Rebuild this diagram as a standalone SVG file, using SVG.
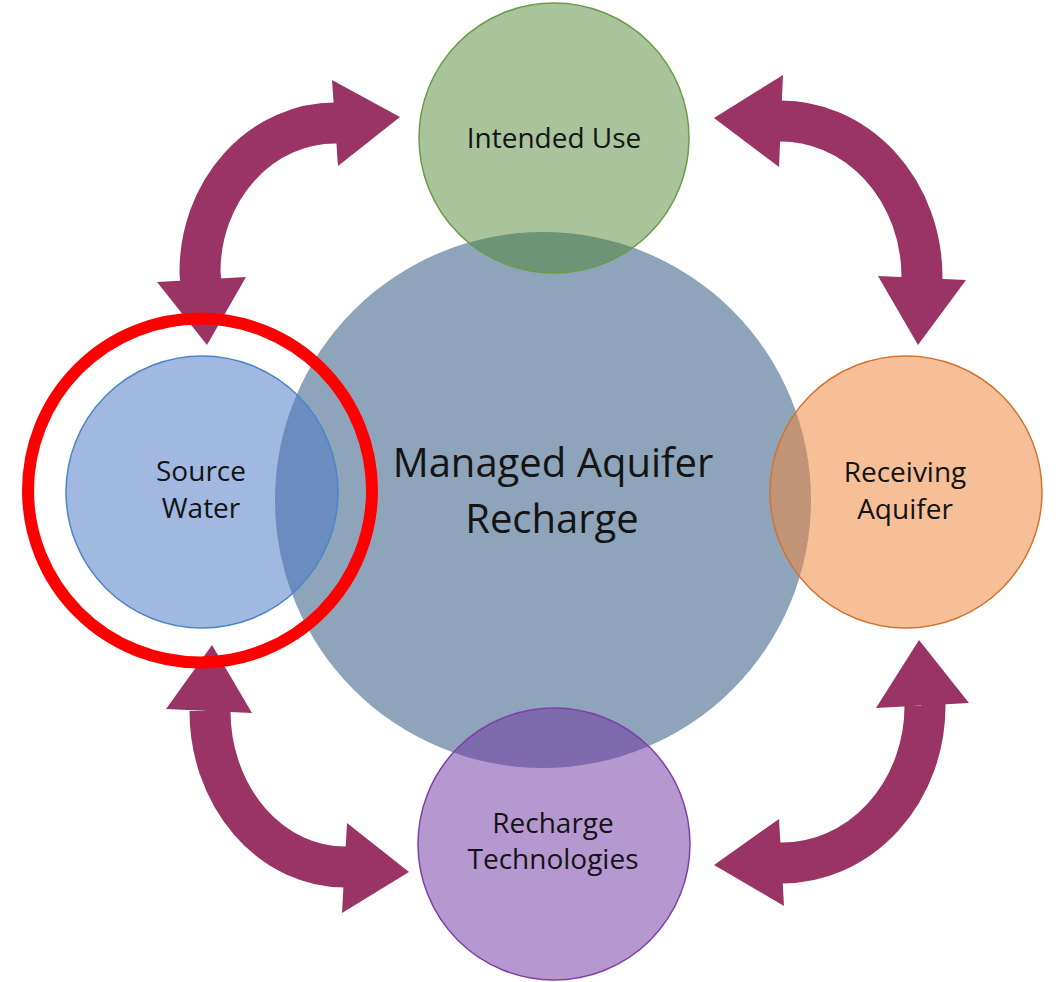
<svg xmlns="http://www.w3.org/2000/svg" width="1056" height="982" viewBox="0 0 1056 982">
<style>
.band{fill:none;stroke:#993464;stroke-width:41;stroke-linecap:butt}
.head{fill:#993464}
.lbl{font-family:"Open Sans","Liberation Sans",sans-serif;fill:#141414;text-anchor:middle}
.small{font-size:28px}
.big{font-size:40px}
</style>
<rect width="1056" height="982" fill="#ffffff"/>
<g id="connectors">
  <path class="band" d="M 201 284 L 200 272 A 135 149 0 0 1 335 123 L 338 123"/>
  <polygon class="head" points="332,80 400,117 338,166"/>
  <polygon class="head" points="157,282 207,345 246,277"/>
  <path class="band" d="M 779 121 A 141 156 0 0 1 922 277 L 922 280"/>
  <polygon class="head" points="714,118 783,75 779,167"/>
  <polygon class="head" points="878,276 918,345 966,280"/>
  <path class="band" d="M 209 709 L 210 711 A 135 156 0 0 0 345 867 L 348 867"/>
  <polygon class="head" points="212,645 166,709 252,713"/>
  <polygon class="head" points="347,823 409,872 342,913"/>
  <path class="band" d="M 924 704 L 925 706 A 143 157 0 0 1 782 863 L 779 863"/>
  <polygon class="head" points="919,640 876,708 969,703"/>
  <polygon class="head" points="714,865 779,819 784,906"/>
</g>
<g id="managed-aquifer-recharge">
  <circle cx="543" cy="500" r="268" fill="#8EA4BB"/>
</g>
<g id="intended-use">
  <circle cx="554" cy="138" r="135" fill="#48822B" fill-opacity="0.47" stroke="#6A9C48" stroke-width="1.5"/>
  <text class="lbl small" x="554" y="148" font-size="29">Intended Use</text>
</g>
<g id="source-water">
  <circle cx="202" cy="492" r="136" fill="#4A76C3" fill-opacity="0.52" stroke="#4A86C6" stroke-width="1.5"/>
  <text class="lbl small" x="201" y="481">Source</text>
  <text class="lbl small" x="201" y="518">Water</text>
</g>
<g id="receiving-aquifer">
  <circle cx="906" cy="492" r="136" fill="#EE863D" fill-opacity="0.53" stroke="#D2742F" stroke-width="1.5"/>
  <text class="lbl small" x="905" y="482">Receiving</text>
  <text class="lbl small" x="905" y="519">Aquifer</text>
</g>
<g id="recharge-technologies">
  <circle cx="554" cy="844" r="136" fill="#6E35A1" fill-opacity="0.51" stroke="#7F3FA8" stroke-width="1.5"/>
  <text class="lbl small" x="553" y="833">Recharge</text>
  <text class="lbl small" x="553" y="869">Technologies</text>
</g>
<g id="central-label">
  <text class="lbl big" x="553" y="477">Managed Aquifer</text>
  <text class="lbl big" x="552" y="533">Recharge</text>
</g>
<g id="highlight">
  <circle cx="200" cy="490.5" r="172" fill="none" stroke="#FF0000" stroke-width="12"/>
</g>
</svg>
